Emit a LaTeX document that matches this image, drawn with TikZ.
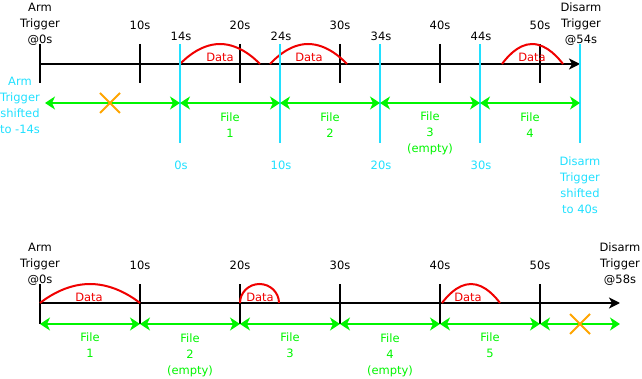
\documentclass[tikz,border=0pt]{standalone}
\usepackage{fontspec}
\setmainfont{DejaVu Sans}
\usetikzlibrary{positioning}
\usetikzlibrary{arrows.meta}
\definecolor{shiftCyan}{RGB}{32,224,255}
\definecolor{fileGreen}{RGB}{0,245,0}
\definecolor{crossOrange}{RGB}{255,165,0}
\definecolor{dataRed}{RGB}{240,0,0}
\tikzset{
    timeAxis/.style={black, line width=2pt, -{Stealth[length=11pt,width=11pt,inset=3pt]}},
    tickLine/.style={black, line width=2pt},
    shiftLine/.style={shiftCyan, line width=2pt},
    dataArc/.style={dataRed, line width=2pt},
    fileArrow/.style={fileGreen, line width=2pt, {Stealth[length=10pt,width=13pt,inset=3pt]}-{Stealth[length=10pt,width=13pt,inset=3pt]}},
    txt/.style={font=\fontsize{11.5}{16}\selectfont, align=center, inner sep=0pt},
    blackTxt/.style={txt, text=black},
    cyanTxt/.style={txt, text=shiftCyan},
    greenTxt/.style={txt, text=fileGreen},
    redTxt/.style={txt, text=dataRed}
}
\tikzset{
    crossMark/.pic={
		\draw[crossOrange, line width=2pt] (-10,-10) -- (10,10);
		\draw[crossOrange, line width=2pt] (-10,10) -- (10,-10);
	}
}
\begin{document}
\begin{tikzpicture}[x=1pt,y=-1pt]
	\useasboundingbox (0,0) rectangle (642,379);
	% upper timeline
	\foreach \i in {0,...,5}
		\coordinate (up\i) at (40+100*\i,64);
	\coordinate (upEnd) at (580,64);
	\draw[timeAxis] (up0) -- (upEnd);
	\foreach \i in {0,...,5}
		\draw[tickLine] (up\i) ++(0,-20) -- ++(0,39);
	\node[blackTxt] (upArm) at (40,24) {Arm\\Trigger\\@0s};
	\foreach \i in {1,...,5}
		\node[blackTxt] (upTick\i) at (40+100*\i,25) {\i0s};
	% data on the upper timeline
	\draw[dataArc] (180,64) parabola bend (220,44) (260,64);
	\draw[dataArc] (270,64) parabola bend (308,44) (347,64);
	\draw[dataArc] (502,64) parabola bend (532,44) (563,64);
	\node[redTxt] (upData1) at (220,57) {Data};
	\node[redTxt] (upData2) at (309,57) {Data};
	\node[redTxt] (upData3) at (532,57) {Data};
	% shifted file boundaries
	\foreach \i/\s/\r in {0/14/0,1/24/10,2/34/20,3/44/30}{
		\draw[shiftLine] (180+100*\i,44) -- (180+100*\i,143);
		\node[blackTxt] (cut\i) at (181+100*\i,36) {\s s};
		\node[cyanTxt] (rel\i) at (181+100*\i,165) {\r s};
	}
	\draw[shiftLine] (580,44) -- (580,143);
	\node[blackTxt] (upDisarm) at (581,24) {Disarm\\Trigger\\@54s};
	\node[cyanTxt] (armShift) at (20,105) {Arm\\Trigger\\shifted\\to -14s};
	\node[cyanTxt] (disarmShift) at (580,185) {Disarm\\Trigger\\shifted\\to 40s};
	\coordinate (fa0) at (45,103);
	\foreach \i in {1,...,5}
		\coordinate (fa\i) at (80+100*\i,103);
	\foreach \a/\b in {fa0/fa1,fa1/fa2,fa2/fa3,fa3/fa4,fa4/fa5}
		\draw[fileArrow] (\a) -- (\b);
	\pic at (110,103) {crossMark};
	\node[greenTxt] (upFile1) at (230,125) {File\\1};
	\node[greenTxt] (upFile2) at (330,125) {File\\2};
	\node[greenTxt] (upFile3) at (430,133) {File\\3\\(empty)};
	\node[greenTxt] (upFile4) at (530,125) {File\\4};
	% lower timeline
	\foreach \i in {0,...,5}
		\coordinate (lo\i) at (40+100*\i,303);
	\coordinate (loEnd) at (620,303);
	\draw[timeAxis] (lo0) -- (loEnd);
	\foreach \i in {0,...,5}
		\draw[tickLine] (lo\i) ++(0,-19) -- ++(0,40);
	\node[blackTxt] (loArm) at (40,264) {Arm\\Trigger\\@0s};
	\foreach \i in {1,...,5}
		\node[blackTxt] (loTick\i) at (40+100*\i,265) {\i0s};
	\node[blackTxt] (loDisarm) at (620,264) {Disarm\\Trigger\\@58s};
	% data on the lower timeline
	\draw[dataArc] (40,303) parabola bend (90,284) (140,303);
	\draw[dataArc] (240,303) arc[start angle=180, end angle=0, x radius=19.5, y radius=-19];
	\draw[dataArc] (442,303) parabola bend (471,284) (500,303);
	\node[redTxt] (loData1) at (89,297) {Data};
	\node[redTxt] (loData2) at (260,297) {Data};
	\node[redTxt] (loData3) at (468,297) {Data};
	\foreach \i in {0,...,5}
		\coordinate (fb\i) at (40+100*\i,324);
	\coordinate (fbEnd) at (620,324);
	\foreach \a/\b in {fb0/fb1,fb1/fb2,fb2/fb3,fb3/fb4,fb4/fb5,fb5/fbEnd}
		\draw[fileArrow] (\a) -- (\b);
	\pic at (580,324) {crossMark};
	\node[greenTxt] (loFile1) at (90,345) {File\\1};
	\node[greenTxt] (loFile2) at (190,355) {File\\2\\(empty)};
	\node[greenTxt] (loFile3) at (290,345) {File\\3};
	\node[greenTxt] (loFile4) at (390,355) {File\\4\\(empty)};
	\node[greenTxt] (loFile5) at (490,345) {File\\5};
\end{tikzpicture}
\end{document}
